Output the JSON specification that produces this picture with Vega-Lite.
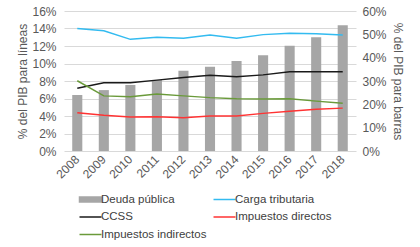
{
  "$schema": "https://vega.github.io/schema/vega-lite/v6.json",
  "width": 292,
  "height": 140,
  "autosize": {"type": "none"},
  "padding": {"left": 64, "top": 11, "right": 64, "bottom": 96},
  "background": "white",
  "config": {
    "view": {"stroke": null},
    "font": "Liberation Sans",
    "axis": {"labelFont": "Liberation Sans", "titleFont": "Liberation Sans", "labelColor": "#595959", "titleColor": "#595959", "labelFontSize": 12, "titleFontSize": 12, "titleFontWeight": "normal"},
    "legend": {"labelFont": "Liberation Sans", "labelFontSize": 11.5, "labelColor": "#404040"}
  },
  "datasets": {
    "deuda": [
      {"year": "2008", "serie": "Deuda pública", "value": 0.24},
      {"year": "2009", "serie": "Deuda pública", "value": 0.261},
      {"year": "2010", "serie": "Deuda pública", "value": 0.283},
      {"year": "2011", "serie": "Deuda pública", "value": 0.304},
      {"year": "2012", "serie": "Deuda pública", "value": 0.344},
      {"year": "2013", "serie": "Deuda pública", "value": 0.361},
      {"year": "2014", "serie": "Deuda pública", "value": 0.386},
      {"year": "2015", "serie": "Deuda pública", "value": 0.41},
      {"year": "2016", "serie": "Deuda pública", "value": 0.451},
      {"year": "2017", "serie": "Deuda pública", "value": 0.487},
      {"year": "2018", "serie": "Deuda pública", "value": 0.539}
    ],
    "lineas": [
      {"year": "2008", "serie": "Carga tributaria", "value": 0.14},
      {"year": "2009", "serie": "Carga tributaria", "value": 0.1375},
      {"year": "2010", "serie": "Carga tributaria", "value": 0.1276},
      {"year": "2011", "serie": "Carga tributaria", "value": 0.13},
      {"year": "2012", "serie": "Carga tributaria", "value": 0.129},
      {"year": "2013", "serie": "Carga tributaria", "value": 0.1326},
      {"year": "2014", "serie": "Carga tributaria", "value": 0.129},
      {"year": "2015", "serie": "Carga tributaria", "value": 0.133},
      {"year": "2016", "serie": "Carga tributaria", "value": 0.1345},
      {"year": "2017", "serie": "Carga tributaria", "value": 0.134},
      {"year": "2018", "serie": "Carga tributaria", "value": 0.1326},
      {"year": "2008", "serie": "CCSS", "value": 0.0716},
      {"year": "2009", "serie": "CCSS", "value": 0.078},
      {"year": "2010", "serie": "CCSS", "value": 0.078},
      {"year": "2011", "serie": "CCSS", "value": 0.081},
      {"year": "2012", "serie": "CCSS", "value": 0.084},
      {"year": "2013", "serie": "CCSS", "value": 0.0865},
      {"year": "2014", "serie": "CCSS", "value": 0.085},
      {"year": "2015", "serie": "CCSS", "value": 0.087},
      {"year": "2016", "serie": "CCSS", "value": 0.0906},
      {"year": "2017", "serie": "CCSS", "value": 0.0906},
      {"year": "2018", "serie": "CCSS", "value": 0.0906},
      {"year": "2008", "serie": "Impuestos directos", "value": 0.0438},
      {"year": "2009", "serie": "Impuestos directos", "value": 0.0408},
      {"year": "2010", "serie": "Impuestos directos", "value": 0.0389},
      {"year": "2011", "serie": "Impuestos directos", "value": 0.0392},
      {"year": "2012", "serie": "Impuestos directos", "value": 0.038},
      {"year": "2013", "serie": "Impuestos directos", "value": 0.04},
      {"year": "2014", "serie": "Impuestos directos", "value": 0.04},
      {"year": "2015", "serie": "Impuestos directos", "value": 0.043},
      {"year": "2016", "serie": "Impuestos directos", "value": 0.0453},
      {"year": "2017", "serie": "Impuestos directos", "value": 0.0476},
      {"year": "2018", "serie": "Impuestos directos", "value": 0.049},
      {"year": "2008", "serie": "Impuestos indirectos", "value": 0.0803},
      {"year": "2009", "serie": "Impuestos indirectos", "value": 0.063},
      {"year": "2010", "serie": "Impuestos indirectos", "value": 0.062},
      {"year": "2011", "serie": "Impuestos indirectos", "value": 0.065},
      {"year": "2012", "serie": "Impuestos indirectos", "value": 0.063},
      {"year": "2013", "serie": "Impuestos indirectos", "value": 0.061},
      {"year": "2014", "serie": "Impuestos indirectos", "value": 0.0598},
      {"year": "2015", "serie": "Impuestos indirectos", "value": 0.0594},
      {"year": "2016", "serie": "Impuestos indirectos", "value": 0.0598},
      {"year": "2017", "serie": "Impuestos indirectos", "value": 0.057},
      {"year": "2018", "serie": "Impuestos indirectos", "value": 0.0545}
    ]
  },
  "encoding": {
    "x": {
      "field": "year", "type": "ordinal",
      "scale": {"paddingInner": 0.62, "paddingOuter": 0.31},
      "axis": {"title": null, "labelAngle": -45, "labelAlign": "right", "labelBaseline": "middle", "ticks": false, "domain": false, "labelPadding": 6}
    },
    "color": {
      "field": "serie", "type": "nominal",
      "scale": {
        "domain": ["Deuda pública", "Carga tributaria", "CCSS", "Impuestos directos", "Impuestos indirectos"],
        "range": ["#a6a6a6", "#33bbf0", "#1a1a1a", "#ff3333", "#6a9a3a"]
      },
      "legend": {
        "title": null, "orient": "none", "legendX": 20, "legendY": 182, "columns": 2, "direction": "horizontal",
        "symbolType": "M-2,0H2", "symbolSize": 121, "symbolStrokeWidth": 1.5, "symbolFillColor": "transparent", "columnPadding": 3, "rowPadding": 5.5, "labelOffset": 4, "labelLimit": 200,
        "encode": {
          "symbols": {"update": {
            "shape": {"signal": "datum.value === 'Deuda pública' ? 'M-2,-0.45H2V0.45H-2Z' : 'M-2,0H2'"},
            "fill": {"signal": "datum.value === 'Deuda pública' ? '#a6a6a6' : 'transparent'"}
          }}
        }
      }
    }
  },
  "layer": [
    {
      "data": {"name": "deuda"},
      "mark": {"type": "bar", "color": "#a6a6a6"},
      "encoding": {
        "y": {
          "field": "value", "type": "quantitative",
          "scale": {"domain": [0, 0.6], "nice": false},
          "axis": {"orient": "right", "title": "% del PIB para barras", "format": ".0%", "values": [0, 0.1, 0.2, 0.3, 0.4, 0.5, 0.6], "grid": false, "ticks": false, "domain": false, "labelPadding": 6, "titlePadding": 4}
        }
      }
    },
    {
      "data": {"name": "lineas"},
      "mark": {"type": "line", "strokeWidth": 1.5},
      "encoding": {
        "y": {
          "field": "value", "type": "quantitative",
          "scale": {"domain": [0, 0.16], "nice": false},
          "axis": {"orient": "left", "title": "% del PIB para líneas", "format": ".0%", "values": [0, 0.02, 0.04, 0.06, 0.08, 0.1, 0.12, 0.14, 0.16], "grid": true, "gridColor": "#d9d9d9", "ticks": false, "domain": false, "labelPadding": 8, "titlePadding": 2}
        }
      }
    }
  ],
  "resolve": {"scale": {"y": "independent"}}
}
